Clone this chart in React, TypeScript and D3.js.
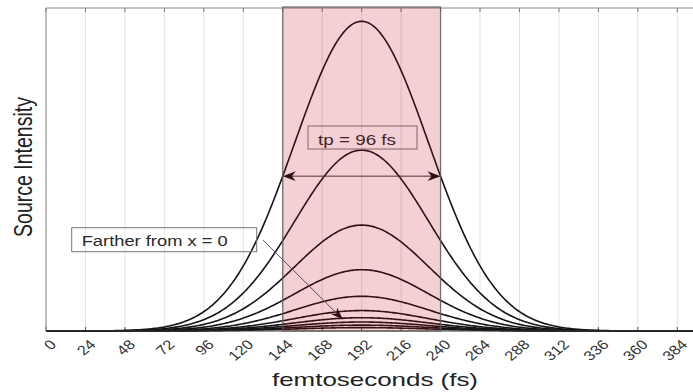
import React from "react";
import * as d3 from "d3";

// ---- data ----
const ticks = [0, 24, 48, 72, 96, 120, 144, 168, 192, 216, 240, 264, 288, 312, 336, 360, 384];
const tickLabels = ticks.map(String);
// Peak amplitude of each pulse (normalised to the tallest)
const amplitudes = [1, 0.584, 0.342, 0.198, 0.112, 0.066, 0.043, 0.029, 0.019, 0.011];
const pulseCenter = [192];
const pulseFWHM = [96];
const shadedSpan = [144, 240];
const sampleTimes = d3.range(0, 394.5, 1);

const W = 693, H = 392;
const FONT = "'Liberation Sans', Arial, Helvetica, sans-serif";
const SX = 1.22; // horizontal stretch of the text in the reference

export default function App() {
  const x = d3.scaleLinear().domain([0, 394]).range([46, 46 + 394 * 1.644]);
  const y = d3.scaleLinear().domain([0, 1.043]).range([331, 8]);
  const sigma = pulseFWHM[0] / (2 * Math.sqrt(2 * Math.log(2)));
  const line = d3
    .line<number>()
    .x((t) => x(t))
    .curve(d3.curveLinear);

  const curves = amplitudes.map((a) =>
    line.y((t) => y(a * Math.exp(-((t - pulseCenter[0]) ** 2) / (2 * sigma * sigma))))(sampleTimes) as string
  );

  const top = y.range()[1];
  const bottom = y.range()[0];
  const left = x.range()[0];
  const right = W;

  // arrowhead (concave back) path pointing from (x0,y0) to tip (x1,y1)
  const head = (x0: number, y0: number, x1: number, y1: number, L = 13, Wd = 4.8) => {
    const dx = x1 - x0, dy = y1 - y0;
    const len = Math.hypot(dx, dy);
    const ux = dx / len, uy = dy / len;
    const px = -uy, py = ux;
    const bx = x1 - ux * L, by = y1 - uy * L;
    const cx = x1 - ux * L * 0.7, cy = y1 - uy * L * 0.7;
    return `M${x1},${y1} L${bx + px * Wd},${by + py * Wd} L${cx},${cy} L${bx - px * Wd},${by - py * Wd} Z`;
  };

  // annotation positions in data coordinates
  const tpY = y(0.5);
  const tpX0 = x(shadedSpan[0]);
  const tpX1 = x(shadedSpan[1]);
  const fa = { x0: x(132), y0: y(0.294), x1: x(180.7), y1: y(0.036) };

  return (
    <svg
      width={W}
      height={H}
      style={{ position: "absolute", left: 0, top: 0, background: "#fff" }}
      fontFamily={FONT}
    >
      <rect x={0} y={0} width={W} height={H} fill="#fff" />
      {/* grid */}
      {ticks.map((t) => (
        <line key={"g" + t} x1={x(t)} x2={x(t)} y1={top} y2={bottom} stroke="#e3e3e3" strokeWidth={1} />
      ))}
      {/* ticks top/bottom */}
      {ticks.map((t) => (
        <g key={"t" + t}>
          <line x1={x(t)} x2={x(t)} y1={top} y2={top + 4} stroke="#777" strokeWidth={1} />
          <line x1={x(t)} x2={x(t)} y1={bottom} y2={bottom - 4} stroke="#555" strokeWidth={1} />
        </g>
      ))}
      {/* curves */}
      {curves.map((d, i) => (
        <path key={"c" + i} d={d} fill="none" stroke="#151515" strokeWidth={1.6} />
      ))}
      {/* frame */}
      <line x1={left} x2={right} y1={top} y2={top} stroke="#8a8a8a" strokeWidth={1} />
      <line x1={left} x2={left} y1={top} y2={bottom} stroke="#8a8a8a" strokeWidth={1} />
      <line x1={left} x2={right} y1={bottom} y2={bottom} stroke="#3a3a3a" strokeWidth={1.2} />

      {/* tp annotation */}
      <rect x={308} y={126} width={109} height={23} fill="none" stroke="#7a7a7a" strokeWidth={1} />
      <text x={318} y={145} fontSize={15} fill="#2a2a2a" textLength={78} lengthAdjust="spacingAndGlyphs">
        tp = 96 fs
      </text>
      <line x1={tpX0 + 4} x2={tpX1 - 4} y1={tpY} y2={tpY} stroke="#3a3a3a" strokeWidth={1} />
      <path d={head(tpX0 + 20, tpY, tpX0, tpY)} fill="#111" />
      <path d={head(tpX1 - 20, tpY, tpX1, tpY)} fill="#111" />

      {/* Farther annotation */}
      <rect x={71.7} y={227.7} width={185} height={24} fill="none" stroke="#777" strokeWidth={1} />
      <text x={81.7} y={245.5} fontSize={14.5} fill="#2a2a2a" textLength={146} lengthAdjust="spacingAndGlyphs">
        Farther from x = 0
      </text>
      <line x1={fa.x0} y1={fa.y0} x2={fa.x1 - 5} y2={fa.y1 - 5} stroke="#555" strokeWidth={1} />
      <path d={head(fa.x0, fa.y0, fa.x1, fa.y1, 13, 4.5)} fill="#111" />

      {/* shaded FWHM region (drawn over, semi-transparent) */}
      <rect
        x={x(shadedSpan[0])}
        y={top - 1}
        width={x(shadedSpan[1]) - x(shadedSpan[0])}
        height={bottom - top + 1}
        fill="rgb(185,0,22)"
        fillOpacity={0.184}
        stroke="#5e5e5e"
        strokeOpacity={0.85}
        strokeWidth={1.3}
      />

      {/* tick labels */}
      {ticks.map((t, i) => (
        <text
          key={"l" + t}
          transform={`translate(${x(t) + 7},${342}) scale(${SX},1) rotate(-45)`}
          textAnchor="end"
          dominantBaseline="central"
          fontSize={13.5}
          fill="#333"
        >
          {tickLabels[i]}
        </text>
      ))}

      {/* axis labels */}
      <text x={272} y={386} fontSize={18.5} fill="#222" textLength={206} lengthAdjust="spacingAndGlyphs">
        femtoseconds (fs)
      </text>
      <text
        transform={`translate(32,167) scale(1.3,1) rotate(-90)`}
        textAnchor="middle"
        fontSize={19.5}
        fill="#222"
      >
        Source Intensity
      </text>
    </svg>
  );
}
